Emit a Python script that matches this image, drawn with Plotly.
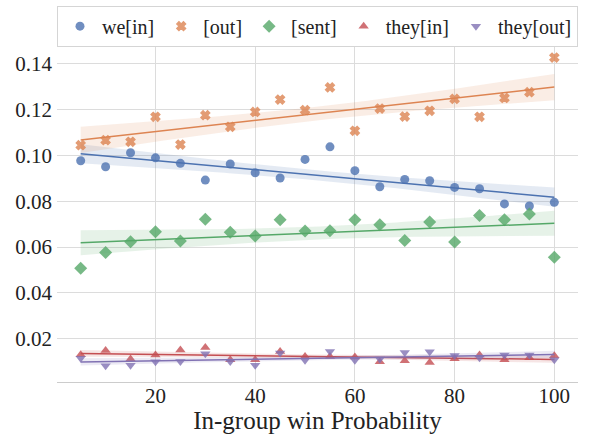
import numpy as np
import plotly.graph_objects as go

# In-group win probability (x) and the five pronoun/label frequencies
win_prob = [5, 10, 15, 20, 25, 30, 35, 40, 45, 50,
            55, 60, 65, 70, 75, 80, 85, 90, 95, 100]

we_in = [0.0976, 0.0950, 0.1011, 0.0989, 0.0965, 0.0892, 0.0962, 0.0924, 0.0901, 0.0982,
         0.1037, 0.0933, 0.0863, 0.0895, 0.0889, 0.0860, 0.0854, 0.0788, 0.0779, 0.0795]
out = [0.1044, 0.1066, 0.1059, 0.1168, 0.1047, 0.1175, 0.1124, 0.1189, 0.1243, 0.1197,
       0.1296, 0.1107, 0.1204, 0.1169, 0.1194, 0.1246, 0.1168, 0.1250, 0.1275, 0.1426]
sent = [0.0508, 0.0576, 0.0623, 0.0667, 0.0626, 0.0721, 0.0664, 0.0648, 0.0719, 0.0670,
        0.0671, 0.0719, 0.0697, 0.0628, 0.0709, 0.0622, 0.0738, 0.0719, 0.0744, 0.0555]
they_in = [0.0130, 0.0149, 0.0112, 0.0129, 0.0151, 0.0162, 0.0109, 0.0109, 0.0145, 0.0123,
           0.0123, 0.0120, 0.0100, 0.0104, 0.0097, 0.0113, 0.0129, 0.0109, 0.0117, 0.0126]
they_out = [0.0115, 0.0082, 0.0085, 0.0100, 0.0101, 0.0135, 0.0101, 0.0085, 0.0138, 0.0106,
            0.0145, 0.0106, 0.0112, 0.0140, 0.0143, 0.0127, 0.0117, 0.0129, 0.0129, 0.0109]

series_names = ["we[in]", "[out]", "[sent]", "they[in]", "they[out]"]
series_values = [we_in, out, sent, they_in, they_out]

palette = ["#4C72B0", "#DD8452", "#55A868", "#C44E52", "#8172B3"]
symbols = ["circle", "x", "diamond", "triangle-up", "triangle-down"]
sizes = [9, 8, 10, 9, 9]
outline = [0, 1.2, 0, 0, 0]

FONT = "Liberation Serif"
TEXT_COLOR = "#222222"
T975_DF18 = 2.101  # Student t quantile for a 95% interval with n-2 = 18 dof


def rgba(hex_color, alpha):
    h = hex_color.lstrip("#")
    r, g, b = int(h[0:2], 16), int(h[2:4], 16), int(h[4:6], 16)
    return f"rgba({r},{g},{b},{alpha})"


def fit_with_ci(x, y, n_grid=100):
    x = np.asarray(x, float)
    y = np.asarray(y, float)
    slope, intercept = np.polyfit(x, y, 1)
    resid = y - (slope * x + intercept)
    n = len(x)
    s = np.sqrt(np.sum(resid ** 2) / (n - 2))
    sxx = np.sum((x - x.mean()) ** 2)
    grid = np.linspace(x.min(), x.max(), n_grid)
    pred = slope * grid + intercept
    half = T975_DF18 * s * np.sqrt(1.0 / n + (grid - x.mean()) ** 2 / sxx)
    return grid, pred, pred - half, pred + half


fig = go.Figure()

for name, vals, col, sym, sz, ow in zip(series_names, series_values, palette,
                                         symbols, sizes, outline):
    grid, pred, lo, hi = fit_with_ci(win_prob, vals)
    # confidence band
    fig.add_trace(go.Scatter(
        x=np.concatenate([grid, grid[::-1]]),
        y=np.concatenate([hi, lo[::-1]]),
        fill="toself", fillcolor=rgba(col, 0.15),
        line=dict(width=0), mode="lines",
        hoverinfo="skip", showlegend=False,
    ))
    # regression line
    fig.add_trace(go.Scatter(
        x=grid, y=pred, mode="lines",
        line=dict(color=col, width=1.5),
        hoverinfo="skip", showlegend=False,
    ))
    # observations
    fig.add_trace(go.Scatter(
        x=win_prob, y=vals, mode="markers", name=name,
        marker=dict(symbol=sym, size=sz, color=col, opacity=0.8,
                    line=dict(width=ow, color=col)),
    ))

grid_color = "#dcdcdc"

fig.update_layout(
    width=590, height=434,
    margin=dict(l=57, r=12, t=42, b=52, autoexpand=False),
    paper_bgcolor="white", plot_bgcolor="white",
    font=dict(family=FONT, color=TEXT_COLOR, size=20),
    legend=dict(
        orientation="h", xref="paper", x=0.5, xanchor="center",
        yref="container", y=0.987, yanchor="top",
        bgcolor="white", bordercolor="#d5d5d5", borderwidth=1,
        font=dict(family=FONT, size=20, color=TEXT_COLOR),
        itemwidth=34,
    ),
    showlegend=True,
)

fig.update_xaxes(
    range=[0.25, 104.75],
    tickvals=[20, 40, 60, 80, 100],
    showgrid=True, gridcolor=grid_color, gridwidth=1,
    zeroline=False, ticks="", automargin=False,
    showline=True, linecolor="#cccccc", linewidth=1, mirror=False,
    ticklabelstandoff=-5,
    tickfont=dict(family=FONT, size=21, color=TEXT_COLOR),
    title=dict(text="In-group win Probability",
               font=dict(family=FONT, size=25, color=TEXT_COLOR),
               standoff=1),
)
fig.update_yaxes(
    range=[0.00115, 0.1494],
    tickvals=[0.02, 0.04, 0.06, 0.08, 0.10, 0.12, 0.14],
    tickformat=".2f",
    showgrid=True, gridcolor=grid_color, gridwidth=1,
    zeroline=False, ticks="", showline=False, automargin=False,
    ticklabelstandoff=4,
    tickfont=dict(family=FONT, size=21, color=TEXT_COLOR),
)

fig.write_html("out.html")
